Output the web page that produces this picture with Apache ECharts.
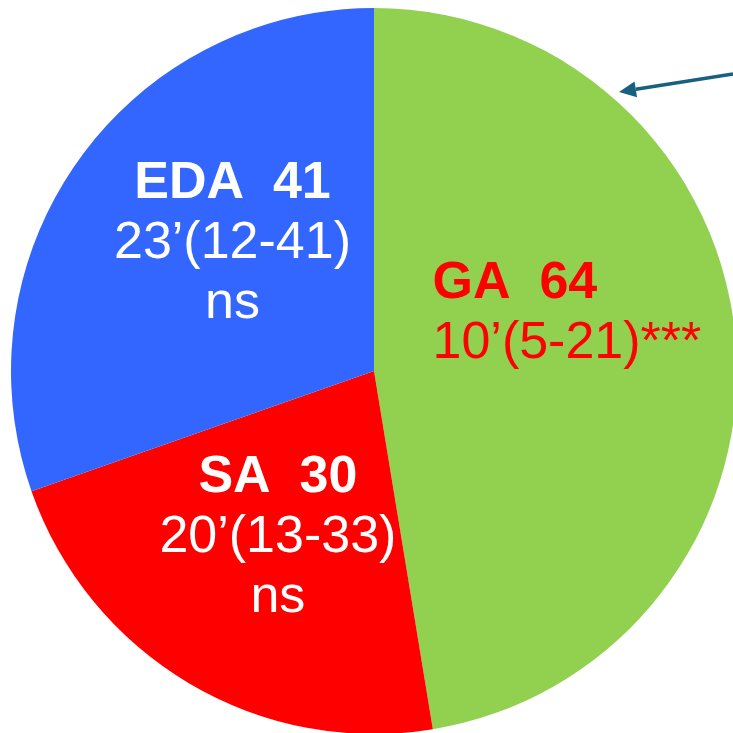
<!DOCTYPE html>
<html>
<head>
<meta charset="utf-8">
<script src="https://cdn.jsdelivr.net/npm/echarts@6/dist/echarts.min.js"></script>
<style>
  html, body { margin: 0; padding: 0; background: #fff; }
  #chart { width: 733px; height: 733px; }
</style>
</head>
<body>
<div id="chart"></div>
<script>
// ---- data ----
const groups = ['GA', 'SA', 'EDA'];
const counts = [64, 30, 41];
const medianTimes = ['10’(5-21)', '20’(13-33)', '23’(12-41)'];
const significance = ['***', 'ns', 'ns'];

// ---- styles ----
const sliceColors = ['#92D050', '#FF0000', '#3366FF'];
const textColors = ['#FF0000', '#FFFFFF', '#FFFFFF'];
const lineAlign = ['left', 'center', 'center'];
const labelShift = [[9, -42], [-2, 8], [9, -21]];
const FONT = '"Liberation Sans", Arial, sans-serif';

const chart = echarts.init(document.getElementById('chart'), null, { renderer: 'canvas' });

function labelText(i) {
  if (significance[i] === '***') {
    return '{b|' + groups[i] + '  ' + counts[i] + '}\n{n|' + medianTimes[i] + significance[i] + '}';
  }
  return '{b|' + groups[i] + '  ' + counts[i] + '}\n{n|' + medianTimes[i] + '}\n{n|' + significance[i] + '}';
}

const data = groups.map(function (g, i) {
  return {
    name: g,
    value: counts[i],
    itemStyle: { color: sliceColors[i] },
    label: {
      color: textColors[i],
      rich: {
        b: { fontFamily: FONT, fontSize: 52, fontWeight: 'bold', lineHeight: 60, color: textColors[i], align: lineAlign[i] },
        n: { fontFamily: FONT, fontSize: 52, fontWeight: 'normal', lineHeight: 60, color: textColors[i], align: lineAlign[i] }
      }
    }
  };
});

// arrow geometry (annotation)
const tip = [619, 92], tail = [733, 74];
const dxA = tail[0] - tip[0], dyA = tail[1] - tip[1];
const lenA = Math.sqrt(dxA * dxA + dyA * dyA);
const ux = dxA / lenA, uy = dyA / lenA;
const headLen = 17, headHalf = 8;
const bc = [tip[0] + ux * headLen, tip[1] + uy * headLen];
const px = -uy, py = ux;

chart.setOption({
  animation: false,
  backgroundColor: '#fff',
  series: [{
    type: 'pie',
    center: [374, 371],
    radius: 363,
    startAngle: 90,
    clockwise: true,
    silent: true,
    avoidLabelOverlap: false,
    itemStyle: { borderWidth: 0 },
    label: {
      show: true,
      position: 'inside',
      fontFamily: FONT,
      fontSize: 52,
      textBorderWidth: 0,
      formatter: function (p) { return labelText(p.dataIndex); }
    },
    labelLine: { show: false },
    labelLayout: function (p) {
      return { dx: labelShift[p.dataIndex][0], dy: labelShift[p.dataIndex][1] };
    },
    emphasis: { disabled: true },
    data: data
  }],
  graphic: [
    {
      type: 'line',
      shape: { x1: tail[0], y1: tail[1], x2: bc[0], y2: bc[1] },
      style: { stroke: '#17607F', lineWidth: 3.5 },
      z: 100
    },
    {
      type: 'polygon',
      shape: { points: [tip, [bc[0] + px * headHalf, bc[1] + py * headHalf], [bc[0] - px * headHalf, bc[1] - py * headHalf]] },
      style: { fill: '#17607F' },
      z: 100
    }
  ]
});
</script>
</body>
</html>
